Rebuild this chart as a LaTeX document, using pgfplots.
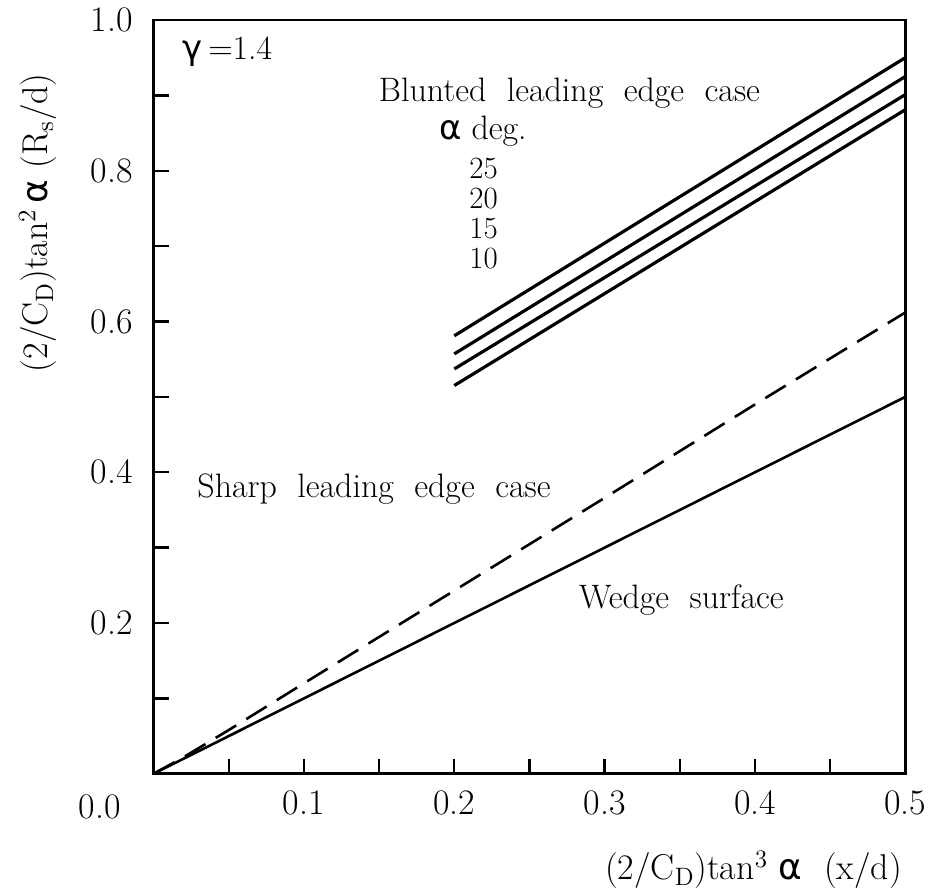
\documentclass[border=0pt]{standalone}
\usepackage{fontspec}
\newfontfamily\greekfont{DejaVu Sans}
\usepackage{pgfplots}
\pgfplotsset{compat=1.18}
\newcommand{\alp}{{\greekfont α}}
\newcommand{\gam}{{\greekfont γ}}
\newcommand{\bigtext}{\fontsize{17}{20}\selectfont}
\newcommand{\numtext}{\fontsize{15.5}{17}\selectfont}
\newcommand{\labeltext}{\fontsize{18}{21}\selectfont}
\newcommand{\ticktext}{\fontsize{18}{21}\selectfont}

\begin{document}
\begin{tikzpicture}
\begin{axis}[
  scale only axis,
  width=377pt, height=378pt,
  xmin=0, xmax=0.5, ymin=0, ymax=1,
  axis line style={line width=1.4pt},
  tick style={line width=1.2pt, black},
  major tick length=7.5pt,
  tick align=inside,
  xtick pos=lower, ytick pos=left,
  xtick={0.05,0.1,0.15,0.2,0.25,0.3,0.35,0.4,0.45,0.5},
  xticklabels={,0.1,,0.2,,0.3,,0.4,,0.5},
  ytick={0.1,0.2,0.3,0.4,0.5,0.6,0.7,0.8,0.9,1.0},
  yticklabels={,0.2,,0.4,,0.6,,0.8,,1.0},
  tick label style={font=\ticktext},
  xticklabel style={yshift=-5pt},
  yticklabel style={xshift=-7pt},
  xlabel={(2/C\textsubscript{D})tan\textsuperscript{3}\ \alp\ \ (x/d)},
  xlabel style={at={(rel axis cs:1,0)}, anchor=north east, yshift=-35pt, xshift=1.8pt, font=\labeltext},
  ylabel={(2/C\textsubscript{D})tan\textsuperscript{2}\,\alp\ (R\textsubscript{s}/d)},
  ylabel style={at={(rel axis cs:-0.154,0.731)}, anchor=center, font=\labeltext},
  clip=false,
]

% wedge surface
\addplot[black, line width=1.3pt] coordinates {(0,0) (0.5,0.5)};

% sharp leading edge case
\addplot[black, line width=1.3pt, dash pattern=on 12pt off 6pt] coordinates {
  (0,0) (0.02,0.022) (0.05,0.058) (0.1,0.12) (0.2,0.243) (0.3,0.366) (0.4,0.49) (0.5,0.612)};

% blunted leading edge case, alpha = 25, 20, 15, 10 deg
\addplot[black, line width=1.6pt] coordinates {(0.2,0.581) (0.5,0.950)};
\addplot[black, line width=1.6pt] coordinates {(0.2,0.557) (0.5,0.925)};
\addplot[black, line width=1.6pt] coordinates {(0.2,0.537) (0.5,0.901)};
\addplot[black, line width=1.6pt] coordinates {(0.2,0.515) (0.5,0.881)};

\node[anchor=west, font=\bigtext] at (axis cs:0.0146,0.958) {\gam\,=1.4};
\node[font=\bigtext] at (axis cs:0.2766,0.903) {Blunted\ \ leading\ \ edge\ \ case};
\node[font=\bigtext] at (axis cs:0.219,0.852) {\alp\ deg.};
\node[font=\numtext, inner sep=0pt] at (axis cs:0.2195,0.8025) {25};
\node[font=\numtext, inner sep=0pt] at (axis cs:0.2195,0.763) {20};
\node[font=\numtext, inner sep=0pt] at (axis cs:0.2195,0.7235) {15};
\node[font=\numtext, inner sep=0pt] at (axis cs:0.2195,0.684) {10};
\node[font=\bigtext] at (axis cs:0.1466,0.378) {Sharp\ \ leading\ \ edge\ \ case};
\node[font=\bigtext] at (axis cs:0.351,0.230) {Wedge\ \ surface};
\node[font=\ticktext] at (rel axis cs:-0.0716,-0.0437) {0.0};

\path ([shift={(-77pt,-59pt)}]current axis.south west) rectangle ([shift={(12.5pt,10pt)}]current axis.north east);
\end{axis}
\end{tikzpicture}
\end{document}
